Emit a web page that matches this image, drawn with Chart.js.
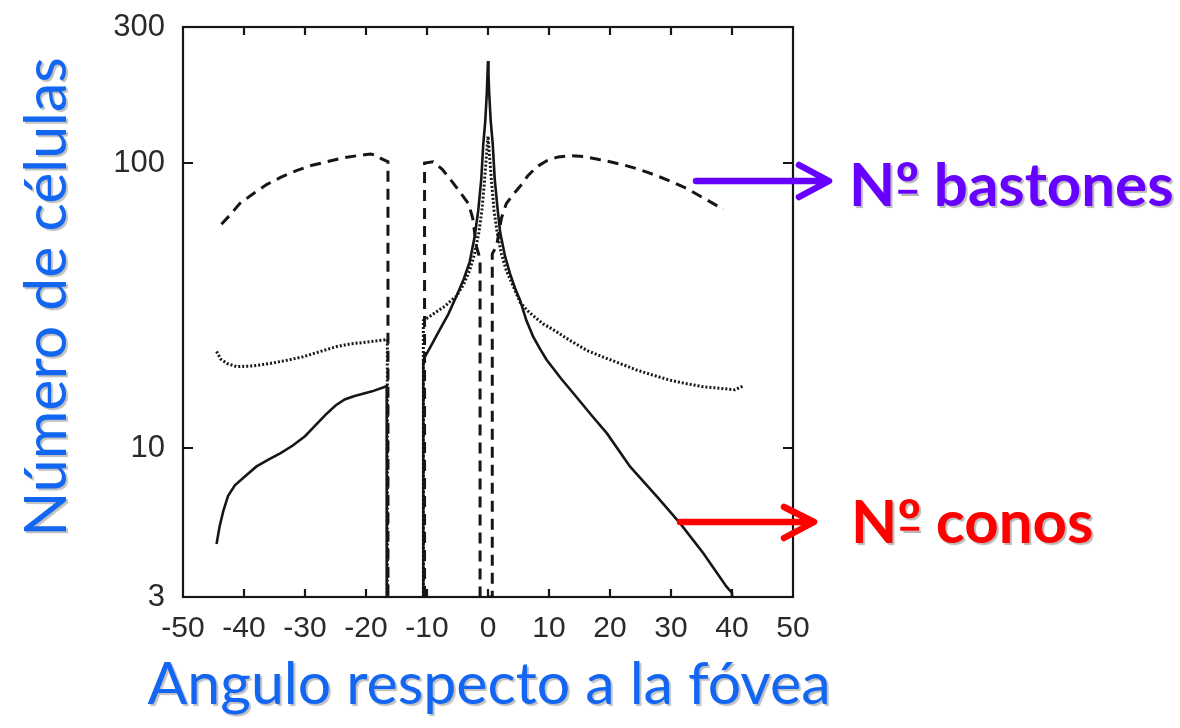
<!DOCTYPE html>
<html>
<head>
<meta charset="utf-8">
<script src="https://cdn.jsdelivr.net/npm/chart.js@4.4.1/dist/chart.umd.min.js"></script>
<style>
  html,body{margin:0;padding:0;background:#fff;}
  #wrap{width:1180px;height:728px;}
</style>
</head>
<body>
<div id="wrap"><canvas id="c" width="1180" height="728"></canvas></div>
<script>
// ---- data (angle in degrees, density) ----
const xTicks = [-50,-40,-30,-20,-10,0,10,20,30,40,50];
const yTicks = [3,10,100,300];

// Rods (dashed)
const rodsAngle = [-43.7,-42.2,-40.7,-38.5,-36.3,-34,-31.4,-29,-26.4,-24,-21.5,-19.3,-18.3,-17.5,-16.4,-16.4,-13.5,
  -10.4,-10.4,-9.0,-7.5,-5.7,-4.2,-3.2,-2.5,-1.9,-1.3,-1.3,0.7,0.7,1.4,2.2,3.0,4.0,5.2,6.5,8.0,9.7,11.5,13.5,15.6,18,20,22.2,24.4,26.3,28.2,30.4,32.6,35.5,38.6];
const rodsValue = [61,66,72,78,84,89,94,98,101,104,106,107.5,106.5,103.5,101,3,null,
  3,100,101,95,85,77,72,64,51,46,3,3,48,51,64,72,77,82.5,90,97,102,105,106,105.4,103,101,98.5,95.5,92.5,89.3,85.5,81.3,75,68.7];

// Other cells (dotted)
const dotAngle = [-44.5,-43.8,-42.8,-41.2,-38.5,-35.7,-33,-30.3,-27.5,-24.8,-22.5,-20,-17.2,-16.5,-16.5,-13.5,
  -10.6,-10.6,-9.5,-8,-7,-6,-5.2,-4,-3,-2.2,-1.5,-1,-0.6,-0.3,0,0.3,0.6,1,1.5,2.2,3,4,5.25,6.5,7.5,9,10.7,13.5,16.2,19,21.6,24.3,27.1,29.8,32.6,35.3,38,40.5,41.8];
const dotValue = [21.8,20.5,19.8,19.3,19.4,19.8,20.3,20.9,21.8,22.7,23.2,23.5,23.9,24,3,null,
  3,28,29,30.5,31.5,33,34,37.5,42,48,57,68,85,103,124,103,85,68,57,48,42,37.5,32.5,30.3,29,27.3,26,23.8,22,20.8,19.8,18.8,18.0,17.3,16.8,16.4,16.2,16.0,16.5];

// Cones (solid)
const conesAngle = [-44.5,-44.0,-43.4,-42.6,-41.5,-40,-38,-36,-34,-32,-30,-28.3,-26.6,-25,-23.5,-22,-20.5,-19,-17.2,-16.6,-16.6,-13.5,
  -10.6,-10.6,-9.5,-7.9,-6.5,-5.2,-4.0,-3.0,-2.2,-1.6,-1.1,-0.77,-0.45,-0.2,-0.08,0,0.08,0.2,0.45,0.77,1.1,1.6,2.0,2.8,3.6,4.4,5.25,6.3,7.4,8.5,9.6,12,14.5,17,19.5,23.3,27.7,31.5,35.3,39.1,40.0,40.0];
const conesValue = [4.6,5.3,6.0,6.8,7.4,7.9,8.6,9.1,9.6,10.2,11.0,12.0,13.1,14.1,14.8,15.2,15.5,15.8,16.3,16.5,3,null,
  3,20.4,22.5,26,29.5,34,39,45,55,68,88,117,140,175,205,228,205,175,140,117,88,68,57,47,41,36.5,33,28,24.6,22.3,20.4,17.5,15.1,13,11.25,8.6,6.75,5.44,4.27,3.26,3.1,3];

const xTitle = 'Angulo respecto a la fóvea';
const yTitle = 'Número de células';

function pts(xs, ys){ return xs.map((x,i)=>({x:x, y:ys[i]})); }

const ink = '#161616';
const blue = '#1266f1';
const shadow = 'rgba(0,0,0,0.25)';

function label(ctx, text, x, y, color, size){
  ctx.fillStyle = color;
  ctx.fillText(text, x, y);
  const wN = ctx.measureText('N').width;
  const wO = ctx.measureText('º').width;
  ctx.fillRect(x + wN + 3, y - size*0.27, wO - 5, size*0.065);
}

const decor = {
  id:'decor',
  afterDatasetsDraw(chart){
    const {ctx, chartArea:a, scales:{x,y}} = chart;
    ctx.save();
    ctx.strokeStyle = ink; ctx.lineWidth = 2.2; ctx.setLineDash([]);
    ctx.strokeRect(a.left, a.top, a.right-a.left, a.bottom-a.top);
    ctx.beginPath();
    x.ticks.forEach(t=>{
      const px = x.getPixelForValue(t.value);
      if (px <= a.left+2 || px >= a.right-2) return;
      ctx.moveTo(px, a.bottom); ctx.lineTo(px, a.bottom-8);
      ctx.moveTo(px, a.top); ctx.lineTo(px, a.top+8);
    });
    y.ticks.forEach(t=>{
      const py = y.getPixelForValue(t.value);
      if (py <= a.top+2 || py >= a.bottom-2) return;
      ctx.moveTo(a.left, py); ctx.lineTo(a.left+10, py);
      ctx.moveTo(a.right, py); ctx.lineTo(a.right-10, py);
    });
    ctx.stroke();
    ctx.restore();
  },
  afterDraw(chart){
    const ctx = chart.ctx;
    ctx.save();
    // x axis title (full width, not squeezed to the plot width)
    ctx.font = '59px Lato';
    ctx.textAlign = 'center'; ctx.textBaseline = 'alphabetic';
    ctx.shadowColor = shadow; ctx.shadowOffsetX = 2; ctx.shadowOffsetY = 2; ctx.shadowBlur = 1;
    ctx.fillStyle = blue;
    ctx.fillText(xTitle, 489, 704);
    ctx.restore();

    ctx.save();
    ctx.lineCap = 'round'; ctx.lineJoin = 'round';
    ctx.strokeStyle = '#6600ff'; ctx.lineWidth = 6.5;
    ctx.beginPath();
    ctx.moveTo(696,181); ctx.lineTo(828,181);
    ctx.moveTo(799,165); ctx.lineTo(829,181); ctx.lineTo(799,197);
    ctx.stroke();
    ctx.strokeStyle = '#ff0000';
    ctx.beginPath();
    ctx.moveTo(680,522); ctx.lineTo(813,522);
    ctx.moveTo(784,507); ctx.lineTo(814,522); ctx.lineTo(784,538);
    ctx.stroke();
    const size = 60;
    ctx.font = 'bold ' + size + 'px Lato';
    ctx.textBaseline = 'alphabetic';
    ctx.textAlign = 'left';
    ctx.shadowColor = 'rgba(0,0,0,0.28)';
    ctx.shadowOffsetX = 2; ctx.shadowOffsetY = 2; ctx.shadowBlur = 1;
    label(ctx, 'Nº bastones', 849, 206, '#6600ff', size);
    label(ctx, 'Nº conos', 851, 543, '#ff0000', size);
    ctx.restore();
  }
};

new Chart(document.getElementById('c'), {
  type:'line',
  data:{
    datasets:[
      {label:'bastones', data:pts(rodsAngle, rodsValue), borderColor:ink, borderWidth:3, borderDash:[11,7], pointRadius:0, tension:0, spanGaps:false, fill:false},
      {label:'otras', data:pts(dotAngle, dotValue), borderColor:ink, borderWidth:3, borderDash:[2,2], pointRadius:0, tension:0, spanGaps:false, fill:false},
      {label:'conos', data:pts(conesAngle, conesValue), borderColor:ink, borderWidth:2.6, pointRadius:0, tension:0, spanGaps:false, fill:false}
    ]
  },
  options:{
    responsive:false,
    animation:false,
    layout:{padding:{top:27, right:387, left:0, bottom:0}},
    plugins:{legend:{display:false}, tooltip:{enabled:false}},
    scales:{
      x:{
        type:'linear', min:-50, max:50,
        afterBuildTicks(s){ s.ticks = xTicks.map(v=>({value:v})); },
        afterFit(s){ s.height = 131; s.paddingLeft = 0; s.paddingRight = 0; },
        grid:{display:false, drawTicks:false},
        border:{display:true, color:ink, width:2},
        ticks:{color:'#2a2a2a', font:{family:'Liberation Sans', size:30}, padding:14, maxRotation:0, autoSkip:false,
          callback:(v)=>String(v)},
        title:{display:false}
      },
      y:{
        type:'logarithmic', min:3, max:300,
        afterBuildTicks(s){ s.ticks = yTicks.map(v=>({value:v})); },
        afterFit(s){
          s.width = 183; s.paddingTop = 0; s.paddingBottom = 0;
          if (!s._shadowed){
            const orig = s.drawTitle;
            s.drawTitle = function(){
              const c = this.ctx; c.save();
              c.shadowColor = shadow; c.shadowOffsetX = 2; c.shadowOffsetY = 2; c.shadowBlur = 1;
              orig.apply(this, arguments); c.restore();
            };
            s._shadowed = true;
          }
        },
        grid:{display:false, drawTicks:false},
        border:{display:true, color:ink, width:2},
        ticks:{color:'#2a2a2a', font:{family:'Liberation Sans', size:31}, padding:18, autoSkip:false,
          callback:(v)=>String(v)},
        title:{display:true, text:'  ' + yTitle, color:blue,
          font:{family:'Lato', size:59, lineHeight:1}, padding:{top:17, bottom:0}}
      }
    }
  },
  plugins:[decor]
});
</script>
</body>
</html>
